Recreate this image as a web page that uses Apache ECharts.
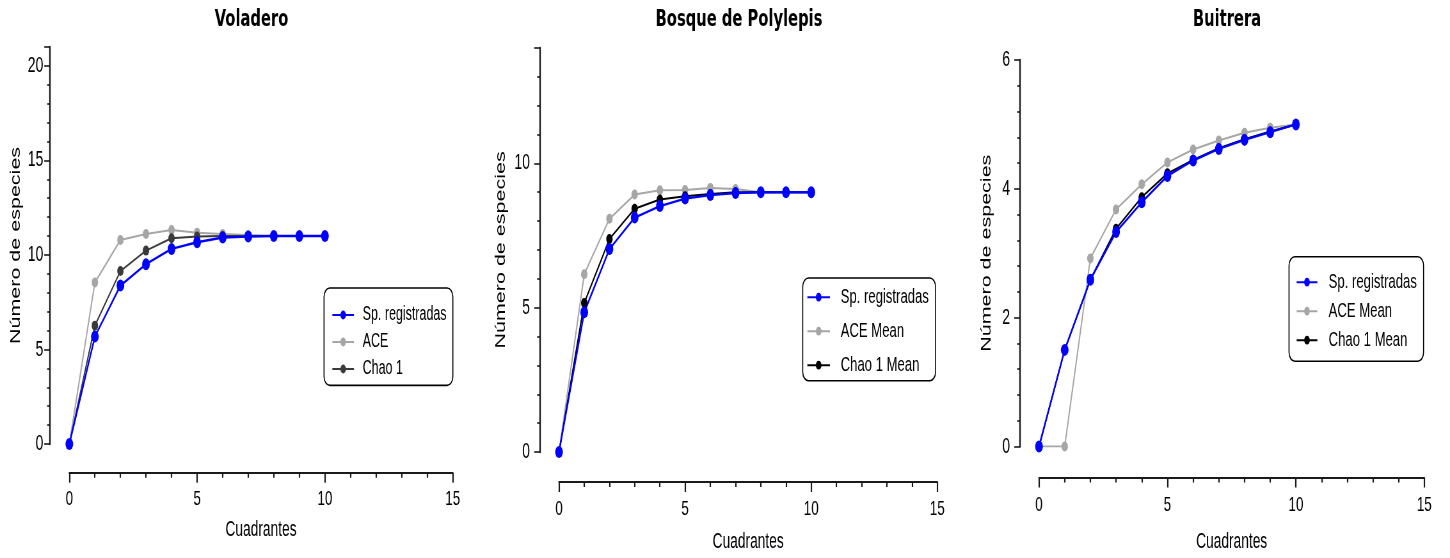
<!DOCTYPE html>
<html>
<head>
<meta charset="utf-8">
<script src="https://cdn.jsdelivr.net/npm/echarts@6/dist/echarts.min.js"></script>
<style>
html,body{margin:0;padding:0;background:#fff;overflow:hidden;}
#wrap{width:1450px;height:558px;overflow:hidden;position:relative;}
#chart{width:2266px;height:558px;transform-origin:0 0;}
</style>
</head>
<body>
<div id="wrap"><div id="chart"></div></div>
<script>
// ---- data ----
const quadrantes = [0, 1, 2, 3, 4, 5, 6, 7, 8, 9, 10];
const xTicks = [0, 5, 10, 15];
const titles = ['Voladero', 'Bosque de Polylepis', 'Buitrera'];
const legendNames1 = ['Sp. registradas', 'ACE', 'Chao 1'];
const legendNames23 = ['Sp. registradas', 'ACE Mean', 'Chao 1 Mean'];

const voladeroSp   = [0, 5.68, 8.38, 9.51, 10.32, 10.67, 10.92, 10.97, 11, 11, 11];
const voladeroACE  = [0, 8.54, 10.79, 11.11, 11.32, 11.18, 11.11, 11.06, 11.02, 11, 11];
const voladeroChao = [0, 6.26, 9.15, 10.23, 10.88, 10.97, 11, 11, 11, 11, 11];

const bosqueSp   = [0, 4.84, 7.03, 8.12, 8.52, 8.78, 8.90, 8.97, 9, 9, 9];
const bosqueACE  = [0, 6.16, 8.08, 8.92, 9.07, 9.08, 9.15, 9.11, 9.0, 9.0, 9.0];
const bosqueChao = [0, 5.16, 7.38, 8.43, 8.75, 8.86, 8.94, 9.0, 9, 9, 9];

const buitreraSp   = [0, 1.5, 2.59, 3.33, 3.79, 4.20, 4.44, 4.62, 4.76, 4.88, 5.0];
const buitreraACE  = [0, 0, 2.92, 3.68, 4.07, 4.41, 4.61, 4.75, 4.87, 4.95, 5.0];
const buitreraChao = [0, 1.5, 2.59, 3.38, 3.87, 4.24, 4.45, 4.63, 4.77, 4.89, 5.0];

// ---- layout (picture is horizontally compressed) ----
const CW = 2266;
const S = 1450 / CW;
const ux = v => v / S;
const el = document.getElementById('chart');
el.style.transform = 'scaleX(' + S + ')';

const FONT = '"Liberation Sans", Arial, Helvetica, sans-serif';
const BLUE = '#0000ff', GRAY = '#a6a6a6';

const panels = [
  { title: titles[0], tx: 251.5, left: 69.3, right: 452.7, top: 47, bottom: 444, yMax: 21, yInt: 5,
    yOff: 19.3, xOff: 28.7, yLabM: 6.7, yNameGap: 27, xLabM: 16.5, xNameGap: 46.5,
    sp: voladeroSp, ace: voladeroACE, chao: voladeroChao, names: legendNames1, chaoColor: '#3a3a3a',
    lg: { left: 324, top: 288, iw: 21.6, gap: 7, pad: [17, 6.3, 6.4, 7.7], tg: 8.7, fs: 19.5 } },
  { title: titles[1], tx: 739, left: 559, right: 937.3, top: 47.9, bottom: 457.7, yMax: 14, yInt: 5,
    yOff: 19, xOff: 30, yLabM: 10, yNameGap: 31.7, xLabM: 16.5, xNameGap: 49,
    sp: bosqueSp, ace: bosqueACE, chao: bosqueChao, names: legendNames23, chaoColor: '#000000',
    lg: { left: 802.7, top: 278, iw: 22.6, gap: 13, pad: [8.7, 6.7, 5, 4], tg: 10.7, fs: 20.5 } },
  { title: titles[2], tx: 1227, left: 1039, right: 1424.3, top: 60, bottom: 447.3, yMax: 6, yInt: 2,
    yOff: 19, xOff: 31, yLabM: 10, yNameGap: 26, xLabM: 17.5, xNameGap: 53.5,
    sp: buitreraSp, ace: buitreraACE, chao: buitreraChao, names: legendNames23, chaoColor: '#000000',
    lg: { left: 1289, top: 256.7, iw: 20.7, gap: 8, pad: [15, 6.7, 10.6, 7], tg: 11.3, fs: 20.5 } }
];

const pairs = arr => quadrantes.map((x, i) => [x, arr[i]]);

const option = {
  animation: false,
  backgroundColor: '#fff',
  title: [], grid: [], xAxis: [], yAxis: [], legend: [], series: []
};

panels.forEach((p, i) => {
  option.title.push({
    text: p.title, left: ux(p.tx), top: 9, textAlign: 'center', padding: 0,
    textStyle: { fontFamily: '"DejaVu Sans", Arial, sans-serif', fontWeight: 'bold', fontSize: 23, color: '#000' }
  });
  option.grid.push({
    left: ux(p.left), width: ux(p.right - p.left), top: p.top, height: p.bottom - p.top, containLabel: false
  });
  option.xAxis.push({
    type: 'value', gridIndex: i, min: 0, max: 15, interval: 5, offset: p.xOff,
    name: 'Cuadrantes', nameLocation: 'middle', nameGap: p.xNameGap,
    nameTextStyle: { fontFamily: FONT, fontSize: 21.5, color: '#000' },
    axisLine: { show: true, onZero: false, lineStyle: { color: '#1a1a1a', width: 2.2 } },
    axisTick: { show: true, length: 10, lineStyle: { color: '#1a1a1a', width: 2.2 } },
    minorTick: { show: true, splitNumber: 5, length: 5, lineStyle: { color: '#1a1a1a', width: 2.2 } },
    axisLabel: { fontFamily: FONT, fontSize: 21, color: '#000', margin: p.xLabM },
    splitLine: { show: false }
  });
  option.yAxis.push({
    type: 'value', gridIndex: i, min: 0, max: p.yMax, interval: p.yInt, offset: ux(p.yOff),
    name: 'Número de especies', nameLocation: 'middle', nameGap: ux(p.yNameGap),
    nameTextStyle: { fontFamily: FONT, fontSize: 21.5, color: '#000' },
    axisLine: { show: true, onZero: false, lineStyle: { color: '#1a1a1a', width: 2.4 } },
    axisTick: { show: true, length: 9, lineStyle: { color: '#1a1a1a', width: 1.6 } },
    minorTick: { show: true, splitNumber: 5, length: 4.5, lineStyle: { color: '#1a1a1a', width: 1.6 } },
    axisLabel: { fontFamily: FONT, fontSize: 22, color: '#000', margin: ux(p.yLabM), showMaxLabel: p.yMax % p.yInt === 0 ? true : false },
    splitLine: { show: false }
  });
  option.legend.push({
    orient: 'vertical', left: ux(p.lg.left), top: p.lg.top,
    itemWidth: ux(p.lg.iw), itemHeight: 11, itemGap: p.lg.gap,
    padding: [p.lg.pad[0], ux(p.lg.pad[1]), p.lg.pad[2], ux(p.lg.pad[3])],
    borderColor: '#000', borderWidth: 1.6, borderRadius: 9, backgroundColor: '#fff',
    selectedMode: false,
    textStyle: { fontFamily: FONT, fontSize: p.lg.fs, lineHeight: 20, color: '#000', padding: [0, 0, 0, ux(p.lg.tg) - 5] },
    data: p.names
  });
  const common = { type: 'line', xAxisIndex: i, yAxisIndex: i, symbol: 'circle', z: 3 };
  option.series.push(Object.assign({}, common, {
    name: p.names[1], data: pairs(p.ace), symbolSize: 10,
    itemStyle: { color: GRAY }, lineStyle: { color: GRAY, width: 2 }
  }));
  option.series.push(Object.assign({}, common, {
    name: p.names[2], data: pairs(p.chao), symbolSize: 10,
    itemStyle: { color: p.chaoColor }, lineStyle: { color: p.chaoColor, width: 2 }
  }));
  option.series.push(Object.assign({}, common, {
    name: p.names[0], data: pairs(p.sp), symbolSize: 12,
    itemStyle: { color: BLUE }, lineStyle: { color: BLUE, width: 2.4 }
  }));
});

const chart = echarts.init(el, null, { renderer: 'canvas' });
chart.setOption(option);
</script>
</body>
</html>
